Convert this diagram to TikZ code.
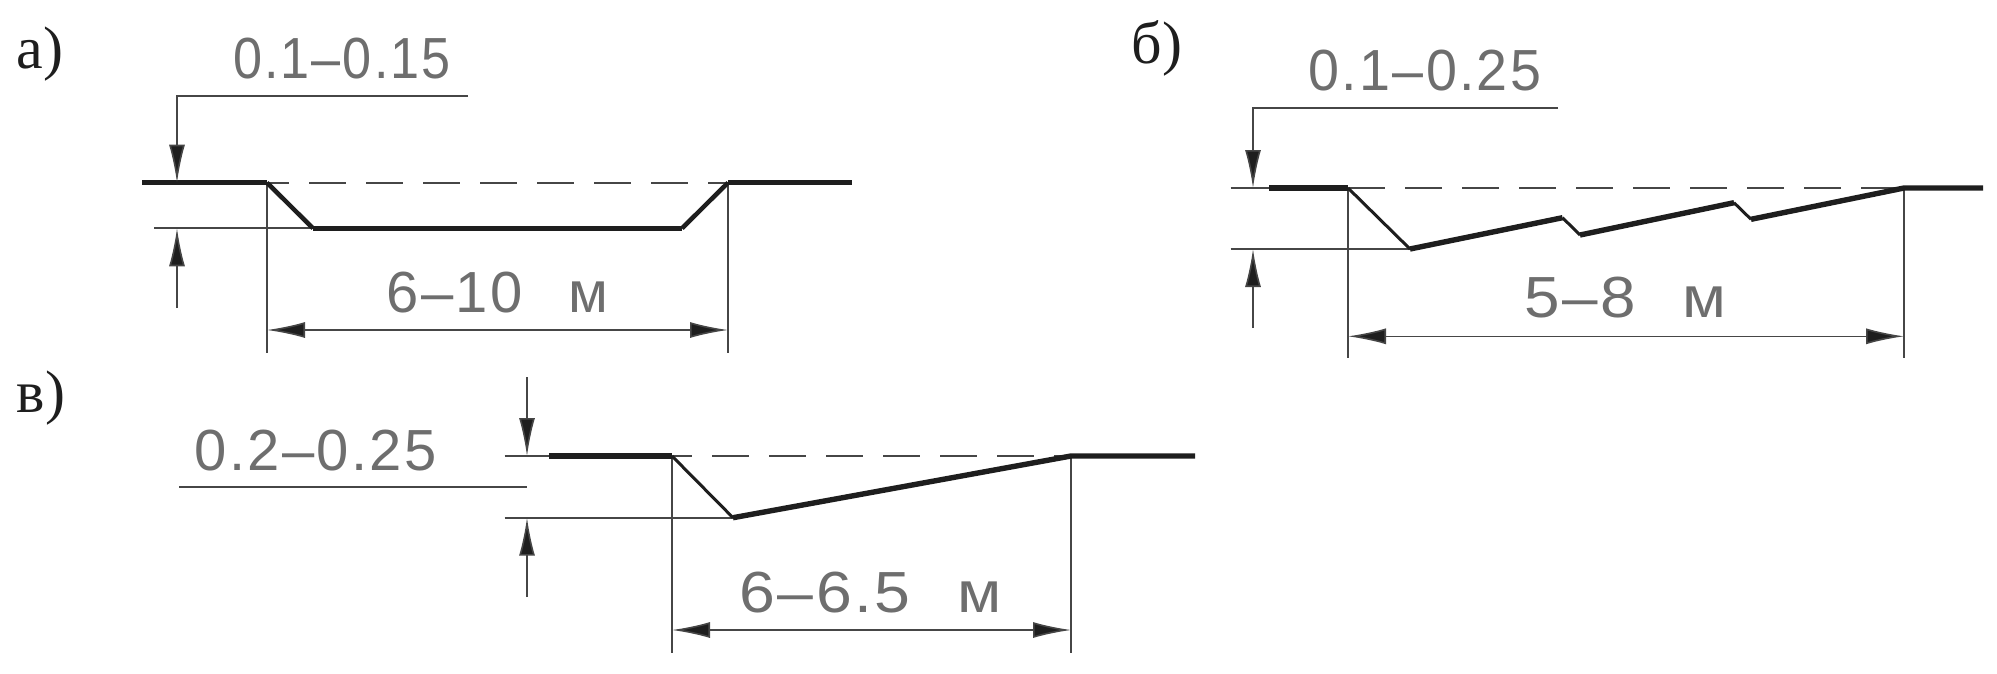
\documentclass[tikz,border=0pt]{standalone}
\usepackage{fontspec}
\usetikzlibrary{arrows.meta}
\setmainfont{Liberation Serif}
\newfontfamily\cadfont[LetterSpace=4]{Liberation Sans}

\begin{document}
\begin{tikzpicture}[x=1pt,y=-1pt,
	>={Latex[length=38pt,width=16pt,fill=colThick]},
	thinline/.style={line width=1.8pt, colThin},
	dimline/.style={line width=1.6pt, colThin},
	profile/.style={line width=5.4pt, colThick, line join=miter},
	slope/.style={line width=3pt, colThick},
	dashline/.style={line width=1.8pt, colThin, dash pattern=on 37pt off 20pt},
	cadlabel/.style={inner sep=0, outer sep=0, colText, transform shape, font=\cadfont\fontsize{58pt}{58pt}\selectfont},
	partlabel/.style={inner sep=0, outer sep=0, colThick, font=\fontsize{60pt}{60pt}\selectfont}]
	\definecolor{colThin}{RGB}{70, 70, 70}
	\definecolor{colThick}{RGB}{30, 30, 30}
	\definecolor{colText}{RGB}{110, 110, 110}
	\useasboundingbox (0,0) rectangle (1997,673);

	% part a
	\node[partlabel] (aName) at (40,54) {а)};
	\coordinate (aLeft) at (142,182.7);
	\coordinate (aEdgeL) at (267,182.7);
	\coordinate (aBotL) at (313,228.3);
	\coordinate (aBotR) at (682,228.3);
	\coordinate (aEdgeR) at (728,182.7);
	\coordinate (aRight) at (852,182.7);
	\draw[dashline, dash phase=15pt] (aEdgeL) -- (aEdgeR);
	\draw[thinline] (154,228.3) -- (aBotL);
	\draw[thinline] (aEdgeL) -- (267,352.7);
	\draw[thinline] (aEdgeR) -- (728,352.7);
	\draw[profile] (aLeft) -- (aEdgeL);
	\draw[slope, line width=4.5pt] (aEdgeL) -- (aBotL);
	\draw[profile] (aBotL) -- (aBotR);
	\draw[slope, line width=4.5pt] (aBotR) -- (aEdgeR);
	\draw[profile] (aEdgeR) -- (aRight);
	\draw[dimline, ->] (468,95.7) -- (177,95.7) -- (177,182.7);
	\draw[dimline, ->] (177,308) -- (177,228.3);
	\draw[dimline, <->] (267,330) -- (728,330);
	\node[cadlabel, xscale=0.9] (aDepth) at (342,59) {0.1–0.15};
	\node[cadlabel] (aWidth) at (497.5,292.5) {6–10\hspace{46pt}м};

	% part b
	\node[partlabel] (bName) at (1157,48) {б)};
	\coordinate (bEdgeL) at (1348,188);
	\coordinate (bBot) at (1410,249);
	\coordinate (bStepA) at (1562.5,217.7);
	\coordinate (bStepB) at (1580,235);
	\coordinate (bStepC) at (1734,202.7);
	\coordinate (bStepD) at (1751,219.3);
	\coordinate (bEdgeR) at (1904,188);
	\coordinate (bRight) at (1983,188);
	\draw[dashline] (bEdgeL) -- (bEdgeR);
	\draw[thinline] (1230.5,188) -- (bEdgeL);
	\draw[thinline] (1230.5,249) -- (bBot);
	\draw[thinline] (bEdgeL) -- (1348,358);
	\draw[thinline] (bEdgeR) -- (1904,358);
	\draw[profile] (1269,188) -- (bEdgeL);
	\draw[slope] (bEdgeL) -- (bBot);
	\draw[profile] (bBot) -- (bStepA);
	\draw[slope] (bStepA) -- (bStepB);
	\draw[profile] (bStepB) -- (bStepC);
	\draw[slope] (bStepC) -- (bStepD);
	\draw[profile] (bStepD) -- (bEdgeR) -- (bRight);
	\draw[dimline, ->] (1558,108) -- (1253,108) -- (1253,188);
	\draw[dimline, ->] (1253,328) -- (1253,249);
	\draw[dimline, <->] (1348,336.3) -- (1904,336.3);
	\node[cadlabel, xscale=0.96] (bDepth) at (1425,71) {0.1–0.25};
	\node[cadlabel, xscale=1.1] (bWidth) at (1625.5,298) {5–8\hspace{43pt}м};

	% part v
	\node[partlabel] (vName) at (41,398) {в)};
	\coordinate (vEdgeL) at (672,456);
	\coordinate (vBot) at (733,517.7);
	\coordinate (vEdgeR) at (1071,456);
	\coordinate (vRight) at (1195,456);
	\draw[dashline, dash phase=17pt] (vEdgeL) -- (vEdgeR);
	\draw[thinline] (504.5,456) -- (vEdgeL);
	\draw[thinline] (504.5,517.7) -- (vBot);
	\draw[thinline] (vEdgeL) -- (672,653);
	\draw[thinline] (vEdgeR) -- (1071,653);
	\draw[profile] (549,456) -- (vEdgeL);
	\draw[slope] (vEdgeL) -- (vBot);
	\draw[profile] (vBot) -- (vEdgeR) -- (vRight);
	\draw[dimline, ->] (527,377) -- (527,456);
	\draw[dimline, ->] (527,597) -- (527,517.7);
	\draw[thinline] (179,486.7) -- (527,486.7);
	\draw[dimline, <->] (672,630) -- (1071,630);
	\node[cadlabel] (vDepth) at (315.5,450.5) {0.2–0.25};
	\node[cadlabel, xscale=1.11] (vWidth) at (870.5,592.5) {6–6.5\hspace{42pt}м};
\end{tikzpicture}
\end{document}
